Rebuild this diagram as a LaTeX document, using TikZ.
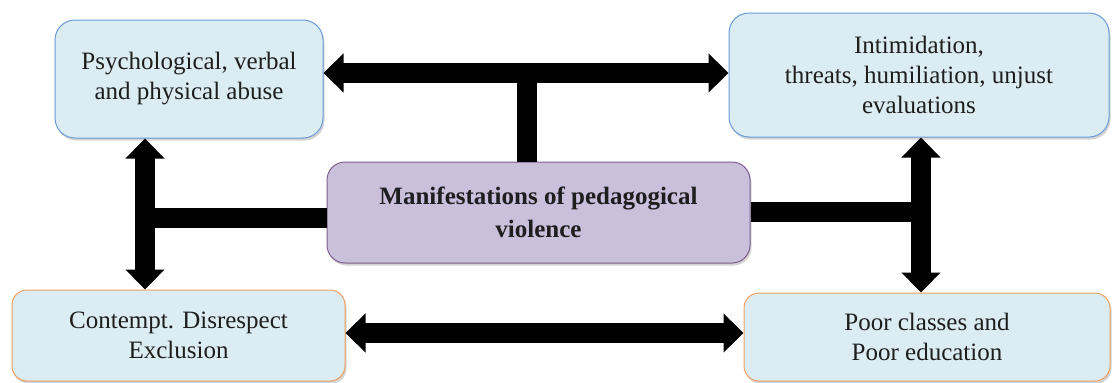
\documentclass[tikz,border=0pt]{standalone}
\usepackage{fontspec}
\setmainfont{Liberation Serif}
\usetikzlibrary{arrows.meta,shadows}
\definecolor{boxfill}{RGB}{219,236,243}
\definecolor{blueedge}{RGB}{106,155,216}
\definecolor{orangeedge}{RGB}{240,160,96}
\definecolor{midfill}{RGB}{203,192,220}
\definecolor{midedge}{RGB}{126,95,142}
\definecolor{txt}{RGB}{30,30,30}
\begin{document}
\begin{tikzpicture}[x=1pt,y=-1pt,
  box/.style={draw, line width=1pt, fill=boxfill, align=center, inner sep=0pt,
    text=txt, font=\fontsize{25}{30}\selectfont,
    drop shadow={shadow xshift=1.5pt, shadow yshift=-2.5pt, opacity=0.35}},
  bluebox/.style={box, draw=blueedge, rounded corners=20pt},
  orangebox/.style={box, draw=orangeedge, rounded corners=15pt},
  midbox/.style={box, draw=midedge, fill=midfill, rounded corners=18pt,
    font=\fontsize{25}{33}\selectfont\bfseries},
  dbl/.style={line width=20pt, {Triangle[length=20pt,width=38pt]}-{Triangle[length=20pt,width=38pt]}},
  stem/.style={line width=20pt}
]
\useasboundingbox (0,0) rectangle (1112,383);
\node[bluebox, minimum width=268pt, minimum height=118pt] (A) at (189,79)
  {Psychological, verbal\\and physical abuse};
\node[bluebox, minimum width=380pt, minimum height=124pt] (B) at (919,75)
  {Intimidation,\\threats, humiliation, unjust\\evaluations};
\node[midbox, minimum width=423pt, minimum height=101pt] (C) at (538.5,212.5)
  {Manifestations of pedagogical\\violence};
\node[orangebox, minimum width=333pt, minimum height=91pt] (D) at (178.5,335.5)
  {Contempt. Disrespect\\Exclusion};
\node[orangebox, minimum width=366pt, minimum height=88pt] (E) at (927,337)
  {Poor classes and\\Poor education};
% top
\draw[dbl] (A.east |- 0,73) -- (B.west |- 0,73);
\draw[stem] (C.north -| 527,0) -- (527,63);
% left
\draw[dbl] (145,0 |- A.south) -- (145,0 |- D.north);
\draw[stem] (C.west |- 0,218) -- (135,218);
% right
\draw[dbl] (921,0 |- B.south) -- (921,0 |- E.north);
\draw[stem] (C.east |- 0,212) -- (931,212);
% bottom
\draw[dbl] (D.east |- 0,333) -- (E.west |- 0,333);
\end{tikzpicture}
\end{document}
